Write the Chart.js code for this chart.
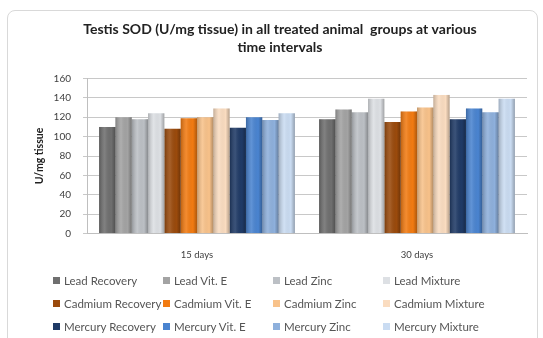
<!DOCTYPE html>
<html>
<head>
<meta charset="utf-8">
<script src="https://cdn.jsdelivr.net/npm/chart.js@4/dist/chart.umd.min.js"></script>
<style>
  html, body { margin: 0; padding: 0; background: #fff; }
  #wrap { position: relative; width: 543px; height: 338px; overflow: hidden; }
  #frame { position: absolute; left: 7px; top: 10px; width: 529px; height: 340px;
           border: 1px solid #d9d9d9; border-radius: 8px; }
  #chart { position: absolute; left: 0; top: 0; }
  #legend { position: absolute; left: 53px; top: 269px; display: grid;
            grid-template-columns: 110px 110px 110px 110px; grid-auto-rows: 23px;
            font-family: Lato, "Liberation Sans", sans-serif; font-size: 11.5px; color: #555; }
  #legend div { display: flex; align-items: center; white-space: nowrap; }
  #legend span.box { display: inline-block; width: 7px; height: 7px; margin-right: 4px; }
</style>
</head>
<body>
<div id="wrap">
  <div id="frame"></div>
  <canvas id="chart" width="543" height="338"></canvas>
  <div id="legend"></div>
</div>
<script>
const categories = ['15 days', '30 days'];

const seriesNames = [
  'Lead Recovery', 'Lead Vit. E', 'Lead Zinc', 'Lead Mixture',
  'Cadmium Recovery', 'Cadmium Vit. E', 'Cadmium Zinc', 'Cadmium Mixture',
  'Mercury Recovery', 'Mercury Vit. E', 'Mercury Zinc', 'Mercury Mixture'
];

const leadRecovery = [110, 118];
const leadVitE = [120, 128];
const leadZinc = [118, 125];
const leadMixture = [124, 139];
const cadmiumRecovery = [108, 115];
const cadmiumVitE = [119, 126];
const cadmiumZinc = [120, 130];
const cadmiumMixture = [129, 143];
const mercuryRecovery = [109, 118];
const mercuryVitE = [120, 129];
const mercuryZinc = [117, 125];
const mercuryMixture = [124, 139];

const yTicks = [0, 20, 40, 60, 80, 100, 120, 140, 160];

const seriesValues = [
  leadRecovery, leadVitE, leadZinc, leadMixture,
  cadmiumRecovery, cadmiumVitE, cadmiumZinc, cadmiumMixture,
  mercuryRecovery, mercuryVitE, mercuryZinc, mercuryMixture
];

const colors = [
  '#6f6f6f', '#a3a3a3', '#bcc0c5', '#dde0e4',
  '#9a4a0c', '#f27b12', '#f8c28a', '#fadcc0',
  '#1f3a66', '#4a84d0', '#8eb0dc', '#cadcf2'
];

const datasets = seriesNames.map((name, i) => ({
  label: name,
  data: seriesValues[i],
  backgroundColor: colors[i],
  borderWidth: 0,
  barPercentage: 1.0,
  categoryPercentage: 0.89
}));

// rounded shading over each bar, like the 3D columns of the original
const barShade = {
  id: 'barShade',
  afterDatasetsDraw(chart) {
    const ctx = chart.ctx;
    chart.data.datasets.forEach((ds, i) => {
      chart.getDatasetMeta(i).data.forEach(bar => {
        const w = bar.width;
        const left = bar.x - w / 2;
        const g = ctx.createLinearGradient(left, 0, left + w, 0);
        g.addColorStop(0, 'rgba(0,0,0,0.22)');
        g.addColorStop(0.35, 'rgba(255,255,255,0.12)');
        g.addColorStop(0.75, 'rgba(0,0,0,0)');
        g.addColorStop(1, 'rgba(0,0,0,0.28)');
        ctx.save();
        ctx.fillStyle = g;
        ctx.fillRect(left, bar.y, w, bar.base - bar.y);
        ctx.restore();
      });
    });
  }
};

const chart = new Chart(document.getElementById('chart'), {
  type: 'bar',
  data: { labels: categories, datasets: datasets },
  options: {
    responsive: false,
    animation: false,
    layout: { padding: { top: 20, right: 16, bottom: 69, left: 33 } },
    plugins: {
      legend: { display: false },
      tooltip: { enabled: false },
      title: {
        display: true,
        text: ['Testis SOD (U/mg tissue) in all treated animal  groups at various', 'time intervals'],
        color: '#222',
        font: { family: 'Lato', size: 14, weight: 'bold', lineHeight: 1.3 },
        padding: { top: 0, bottom: 22 }
      }
    },
    scales: {
      x: {
        grid: { display: false },
        border: { color: '#bfbfbf' },
        ticks: { color: '#404040', font: { family: 'Lato', size: 9.5 }, padding: 8 }
      },
      y: {
        min: 0,
        max: 160,
        afterFit: (scale) => { scale.width = 54; },
        afterBuildTicks: (scale) => { scale.ticks = yTicks.map(v => ({ value: v })); },
        grid: { color: '#c8c8c8', tickLength: 4 },
        border: { color: '#bfbfbf' },
        ticks: { color: '#404040', font: { family: 'Lato', size: 10 }, padding: 12 },
        title: {
          display: true,
          text: 'U/mg tissue',
          color: '#222',
          font: { family: 'Lato', size: 10.5, weight: 'bold' },
          padding: { top: 0, bottom: 0 }
        }
      }
    }
  },
  plugins: [barShade]
});

// legend as a 4-column grid, built from the chart's own legend items
const legendBox = document.getElementById('legend');
chart.options.plugins.legend.labels.generateLabels(chart).forEach(item => {
  const d = document.createElement('div');
  const box = document.createElement('span');
  box.className = 'box';
  box.style.background = item.fillStyle;
  d.appendChild(box);
  d.appendChild(document.createTextNode(item.text));
  legendBox.appendChild(d);
});
</script>
</body>
</html>
